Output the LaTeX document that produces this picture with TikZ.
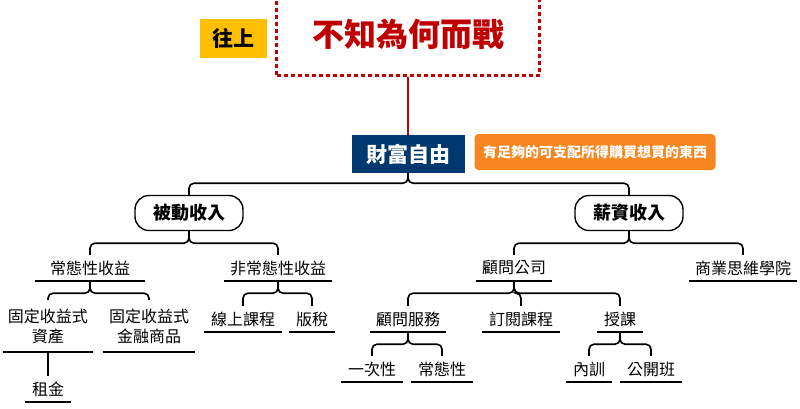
\documentclass[tikz,border=0pt]{standalone}
\usepackage{fontspec}
\setmainfont{Noto Sans CJK TC}
\usetikzlibrary{positioning}
\definecolor{warred}{RGB}{192,0,0}
\definecolor{navy}{RGB}{0,56,112}
\definecolor{orangebox}{RGB}{247,134,31}
\definecolor{yellowbox}{RGB}{255,190,0}
\tikzset{
  uline/.style={line width=1.6pt},
  item/.style={font=\fontsize{16}{20}\selectfont, inner sep=0pt, minimum height=26pt,
    append after command={(\tikzlastnode.south west) edge[uline] (\tikzlastnode.south east)}},
  branch/.style={line width=1.6pt, rounded corners=5pt},
  pill/.style={draw, line width=1.4pt, rounded corners=14pt, minimum width=108pt,
    minimum height=35pt, font=\bfseries\fontsize{18}{21}\selectfont}
}
\begin{document}
\begin{tikzpicture}[x=1pt, y=-1pt]
\useasboundingbox (0,0) rectangle (800,408);

% top
\node[draw=warred, dashed, dash pattern=on 4pt off 3pt, line width=3pt, minimum width=263pt,
  minimum height=82pt, text=warred, font=\bfseries\fontsize{32}{36}\selectfont] (why) at (408,34) {不知為何而戰};
\node[fill=yellowbox, minimum width=67pt, minimum height=39pt, font=\bfseries\fontsize{21}{24}\selectfont] (up) at (233,38) {往上};
\node[fill=navy, text=white, minimum width=113pt, minimum height=38pt, font=\bfseries\fontsize{21}{24}\selectfont] (free) at (408,154) {財富自由};
\node[fill=orangebox, text=white, rounded corners=4pt, minimum width=241pt, minimum height=36pt,
  font=\bfseries\fontsize{14}{16}\selectfont] (def) at (595,152) {有足夠的可支配所得購買想買的東西};
\draw[warred, line width=2pt] (why.south) -- (free.north);

% level 1
\node[pill] (passive) at (189,213) {被動收入};
\node[pill] (salary) at (629,213) {薪資收入};
\draw[branch] (free.south) -- ++(0,10) -| (passive.north);
\draw[branch] (free.south) -- ++(0,10) -| (salary.north);

% passive income
\node[item, minimum width=110pt] (regular) at (90,268) {常態性收益};
\node[item, minimum width=107pt] (irregular) at (278,268) {非常態性收益};
\draw[branch] (passive.south) -- ++(0,12) -| (regular.north);
\draw[branch] (passive.south) -- ++(0,12) -| (irregular.north);

\node[item, minimum width=90pt, minimum height=52pt, align=center] (asset) at (48,326) {固定收益式\\資產};
\node[item, minimum width=92pt, minimum height=52pt, align=center] (fund) at (149,326) {固定收益式\\金融商品};
\draw[branch] (regular.south) -- ++(0,12) -| (asset.north);
\draw[branch] (regular.south) -- ++(0,12) -| (fund.north);
\node[item, minimum width=45pt] (rent) at (48,389) {租金};
\draw[branch] (asset.south) -- (rent.north);

\node[item, minimum width=77pt] (online) at (243,319) {線上課程};
\node[item, minimum width=45pt] (royalty) at (312,319) {版稅};
\draw[branch] (irregular.south) -- ++(0,12) -| (online.north);
\draw[branch] (irregular.south) -- ++(0,12) -| (royalty.north);

% salary income
\node[item, minimum width=75pt] (consult) at (514,268) {顧問公司};
\node[item, minimum width=107pt] (school) at (743,268) {商業思維學院};
\draw[branch] (salary.south) -- ++(0,12) -| (consult.north);
\draw[branch] (salary.south) -- ++(0,12) -| (school.north);

\node[item, minimum width=76pt] (service) at (408,319) {顧問服務};
\node[item, minimum width=78pt] (subscribe) at (521,319) {訂閱課程};
\node[item, minimum width=45pt] (teach) at (620,319) {授課};
\draw[branch] (consult.south) -- ++(0,12) -| (service.north);
\draw[branch] (consult.south) -- ++(0,12) -| (subscribe.north);
\draw[branch] (consult.south) -- ++(0,12) -| (teach.north);

\node[item, minimum width=61pt] (once) at (372,369) {一次性};
\node[item, minimum width=61pt] (steady) at (442,369) {常態性};
\draw[branch] (service.south) -- ++(0,12) -| (once.north);
\draw[branch] (service.south) -- ++(0,12) -| (steady.north);

\node[item, minimum width=45pt] (inhouse) at (589,369) {內訓};
\node[item, minimum width=62pt] (public) at (651,369) {公開班};
\draw[branch] (teach.south) -- ++(0,12) -| (inhouse.north);
\draw[branch] (teach.south) -- ++(0,12) -| (public.north);
\end{tikzpicture}
\end{document}
